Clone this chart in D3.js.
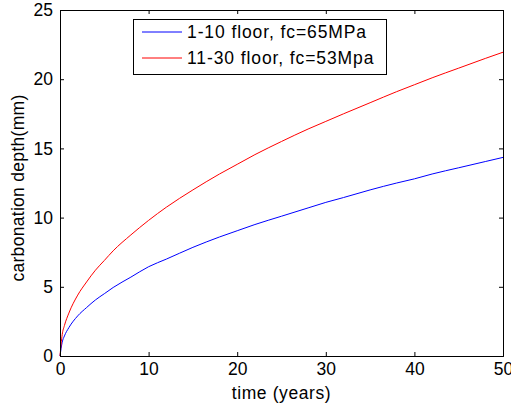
<!DOCTYPE html>
<html>
<head>
<meta charset="utf-8">
<script src="https://d3js.org/d3.v7.min.js"></script>
<style>
  body { margin: 0; background: #fff; }
  text { font-family: Arial, "Liberation Sans", sans-serif; fill: #000; }
</style>
</head>
<body>
<script>
// values
var years = [0, 0.25, 0.5, 1, 2, 3, 4, 5, 6, 8, 10, 12, 15, 18, 20, 22, 25, 28, 30, 32, 35, 38, 40, 42, 45, 48, 50];
var depthLow = [0, 1.0, 1.45, 2.05, 2.9, 3.5, 4.05, 4.5, 4.95, 5.7, 6.45, 7.0, 7.85, 8.6, 9.05, 9.5, 10.1, 10.7, 11.1, 11.45, 12.0, 12.5, 12.8, 13.15, 13.6, 14.05, 14.35];
var depthHigh = [0, 1.55, 2.2, 3.1, 4.4, 5.35, 6.2, 6.9, 7.6, 8.75, 9.8, 10.75, 12.0, 13.15, 13.85, 14.55, 15.5, 16.4, 16.95, 17.5, 18.3, 19.1, 19.6, 20.1, 20.8, 21.5, 21.95];
var xTicks = [0, 10, 20, 30, 40, 50];
var yTicks = [0, 5, 10, 15, 20, 25];
var seriesNames = ["1-10 floor, fc=65MPa", "11-30 floor, fc=53Mpa"];
var seriesColors = ["#0000ff", "#ff0000"];

var width = 511, height = 407;
var plotL = 60, plotR = 503, plotT = 10, plotB = 356;

var x = d3.scaleLinear().domain([0, 50]).range([plotL, plotR]);
var y = d3.scaleLinear().domain([0, 25]).range([plotB, plotT]);

var svg = d3.select("body").append("svg")
    .attr("width", width)
    .attr("height", height);

// curves
var line = d3.line()
    .x(function(d) { return x(d[0]); })
    .y(function(d) { return y(d[1]); })
    .curve(d3.curveMonotoneX);

[depthLow, depthHigh].forEach(function(vals, i) {
  svg.append("path")
      .datum(years.map(function(t, j) { return [t, vals[j]]; }))
      .attr("fill", "none")
      .attr("stroke", seriesColors[i])
      .attr("stroke-width", 1)
      .attr("d", line);
});

// axes, ticks inward, mirrored on top and right
var tl = 4;
svg.append("g").attr("transform", "translate(0," + plotB + ")")
    .call(d3.axisBottom(x).tickValues(xTicks).tickSize(-tl).tickPadding(7));
svg.append("g").attr("transform", "translate(0," + plotT + ")")
    .call(d3.axisTop(x).tickValues(xTicks).tickSize(-tl).tickFormat(""));
svg.append("g").attr("transform", "translate(" + plotL + ",0)")
    .call(d3.axisLeft(y).tickValues(yTicks).tickSize(-tl).tickPadding(7));
svg.append("g").attr("transform", "translate(" + plotR + ",0)")
    .call(d3.axisRight(y).tickValues(yTicks).tickSize(-tl).tickFormat(""));

svg.selectAll(".domain").attr("stroke", "#000").attr("stroke-width", 1);
svg.selectAll(".tick line").attr("stroke", "#000");
svg.selectAll(".tick text")
    .style("font-size", "17.5px")
    .style("font-family", "Arial, 'Liberation Sans', sans-serif");

// axis labels
svg.append("text")
    .attr("x", (plotL + plotR) / 2)
    .attr("y", 399)
    .attr("text-anchor", "middle")
    .style("font-size", "17.5px")
    .style("letter-spacing", "0.6px")
    .text("time (years)");

svg.append("text")
    .attr("transform", "translate(24," + ((plotT + plotB) / 2 + 5) + ") rotate(-90)")
    .attr("text-anchor", "middle")
    .style("font-size", "17.5px")
    .style("letter-spacing", "0.3px")
    .text("carbonation depth(mm)");

// legend
var lg = svg.append("g");
lg.append("rect")
    .attr("x", 133.5).attr("y", 19.5)
    .attr("width", 253).attr("height", 55)
    .attr("fill", "#fff")
    .attr("stroke", "#000");
seriesNames.forEach(function(name, i) {
  var ly = 32 + i * 26;
  lg.append("line")
      .attr("x1", 142).attr("x2", 182)
      .attr("y1", ly).attr("y2", ly)
      .attr("stroke", seriesColors[i]);
  lg.append("text")
      .attr("x", 187).attr("y", ly + 6)
      .style("font-size", "17.5px")
      .style("letter-spacing", "0.9px")
      .text(name);
});
</script>
</body>
</html>
